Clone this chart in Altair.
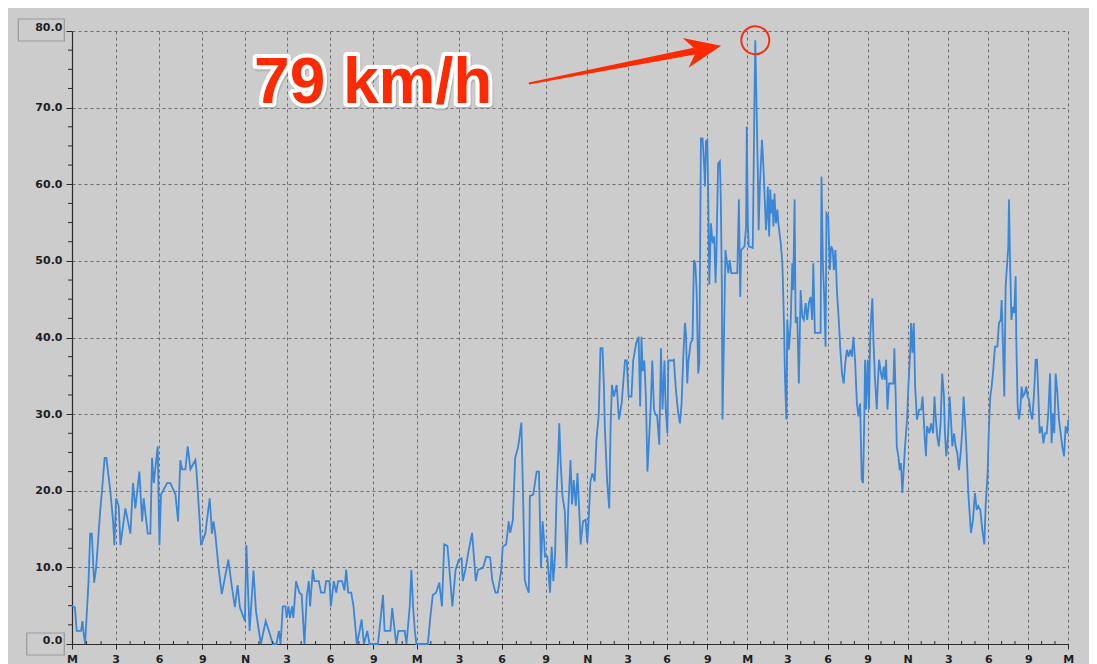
import altair as alt
import pandas as pd

# ---- data (hours since midnight, wind speed km/h) ----
hours = [
    0.0, 0.2, 0.32, 0.62, 0.72, 0.78, 0.9, 1.13, 1.25, 1.36, 1.52, 1.66, 1.94, 2.06, 2.24, 2.36,
    2.63, 2.82, 2.91, 3.03, 3.21, 3.33, 3.67, 4.02, 4.2, 4.36, 4.64, 4.83, 4.94, 5.22, 5.4, 5.52,
    5.64, 5.91, 6.03, 6.14, 6.56, 6.79, 7.14, 7.32, 7.48, 7.6, 7.83, 7.99, 8.18, 8.52, 8.59, 8.82,
    8.91, 9.21, 9.52, 9.68, 9.79, 9.91, 10.14, 10.37, 10.83, 11.06, 11.29, 11.48, 11.64, 11.99,
    12.1, 12.33, 12.61, 12.79, 13.14, 13.49, 13.72, 14.0,
    14.26, 14.44, 14.56, 14.72, 14.91, 15.0, 15.12, 15.23, 15.37, 15.46, 15.65, 15.88, 16.04,
    16.23, 16.39, 16.53, 16.62, 16.81, 16.92, 17.22, 17.38, 17.62, 17.73, 17.96, 18.06, 18.26,
    18.43, 18.56, 18.84, 19.0, 19.12, 19.26, 19.47, 19.63, 19.86, 20.05, 20.19, 20.35, 20.58,
    20.74, 21.32, 21.5, 21.67, 21.78, 22.18, 22.31, 22.48, 22.59, 22.73, 23.17, 23.29, 23.52,
    23.63, 23.75, 23.87, 23.98, 24.79, 24.95, 25.14, 25.37, 25.6, 25.79, 25.95, 26.18, 26.3,
    26.53, 26.76, 26.99, 27.18, 27.27, 27.45, 27.69, 27.92,
    28.18, 28.34, 28.68, 28.91, 29.19, 29.33, 29.56, 29.72, 29.95, 30.07, 30.3, 30.48, 30.58,
    30.76, 30.92, 31.11, 31.22, 31.34, 31.45, 31.57, 31.69, 31.85, 31.92, 32.15, 32.38, 32.54,
    32.61, 32.68, 32.79, 32.89, 32.95, 33.12, 33.31, 33.43, 33.55, 33.67, 33.79, 33.9, 33.98,
    34.07, 34.21, 34.38, 34.5, 34.62, 34.79, 34.9, 35.02, 35.17, 35.29, 35.45, 35.52, 35.69,
    35.88, 36.0, 36.1, 36.23, 36.38, 36.55, 36.68, 36.85, 36.98, 37.13, 37.23, 37.3, 37.48,
    37.63, 37.73, 37.83, 37.98, 38.18, 38.35, 38.55, 38.8, 38.93, 39.07, 39.29, 39.42, 39.66,
    39.84, 39.96, 40.06, 40.15, 40.28, 40.4, 40.52, 40.65, 40.77, 40.89, 41.02, 41.14, 41.26,
    41.43, 41.56, 41.68, 41.83, 41.92, 42.05, 42.12, 42.44,
    42.53, 42.68, 42.85, 42.98, 43.1, 43.22, 43.35, 43.42, 43.52, 43.59, 43.77, 43.91, 44.01,
    44.11, 44.21, 44.33, 44.41, 44.53, 44.65, 44.78, 44.83, 44.9, 45.0, 45.07, 45.15, 45.27,
    45.4, 45.52, 45.62, 45.69, 45.81, 45.94, 46.01, 46.09, 46.14, 46.26, 46.36, 46.48, 46.58,
    46.68, 46.8, 47.25, 47.37, 47.47, 47.54, 47.79, 47.91, 47.96, 48.04, 48.11, 48.41, 48.53,
    48.6, 48.7, 48.78, 48.85, 48.95, 49.1, 49.2, 49.27, 49.4, 49.47, 49.54, 49.64, 49.72,
    49.81, 49.89, 49.96, 50.04, 50.14, 50.26, 50.33, 50.51, 50.63, 50.75, 50.83, 50.93, 51.0,
    51.12, 51.25, 51.37, 51.44, 51.54, 51.62, 51.74, 51.86, 51.99, 52.11, 52.23, 52.36, 52.48,
    52.6, 52.73, 52.85, 52.93, 53.05, 53.47, 53.54, 53.64, 53.74, 53.84, 53.91, 54.04, 54.16,
    54.26, 54.38, 54.46, 54.58, 54.7, 54.83, 54.95, 55.07, 55.2, 55.32, 55.44, 55.57, 55.69,
    55.81, 55.93, 56.06, 56.19, 56.31, 56.43, 56.55, 56.65, 56.75,
    56.8, 56.88, 57.0, 57.1, 57.18, 57.25, 57.35, 57.43, 57.55, 57.68, 57.75, 57.85, 58.0,
    58.1, 58.2, 58.3, 58.38, 58.48, 58.6, 58.93, 59.0, 59.1, 59.18, 59.3, 59.4, 59.5, 59.6,
    59.7, 59.8, 59.95, 60.05, 60.18, 60.25, 60.35, 60.45, 60.55, 60.68, 60.85, 61.0, 61.1,
    61.25, 61.35, 61.43, 61.6, 61.73, 61.88, 61.98, 62.05, 62.18, 62.3, 62.43, 62.55, 62.68,
    62.75, 62.85, 62.98, 63.1, 63.2, 63.3, 63.43, 63.55, 63.68, 63.8, 63.93, 64.05, 64.15,
    64.25, 64.35, 64.5, 64.6, 64.7, 64.85, 65.0, 65.13, 65.25, 65.4, 65.55, 65.7, 65.8, 65.95,
    66.05, 66.15, 66.25, 66.35, 66.5, 66.68, 66.8, 66.93, 67.0, 67.1, 67.2, 67.3, 67.43, 67.5,
    67.55, 67.63, 67.73, 67.85, 67.95, 68.05, 68.1, 68.2, 68.3, 68.4, 68.5, 68.6, 68.73, 68.85,
    68.95, 69.05, 69.18, 69.3, 69.43, 69.55, 69.65, 69.75, 69.85, 70.0, 70.13, 70.25, 70.38,
    70.5, 70.63, 70.75, 70.85, 70.95, 71.05, 71.18, 71.3, 71.43, 71.55, 71.68, 71.8, 71.93, 72.0,
]
speeds = [
    5.0, 4.8, 1.7, 1.7, 3.0, 1.7, 0.0, 8.0, 14.4, 14.4, 8.0, 10.0, 17.5, 20.0, 24.3, 24.3,
    20.0, 16.0, 12.9, 19.0, 18.0, 12.9, 17.7, 14.4, 21.0, 17.7, 22.5, 16.0, 19.0, 14.4, 14.4, 24.3,
    21.0, 25.8, 12.9, 19.5, 21.0, 21.0, 19.5, 16.0, 24.0, 22.8, 22.8, 25.8, 22.8, 24.0, 22.8, 16.0,
    12.9, 14.4, 19.0, 14.4, 16.0, 14.4, 10.0, 6.5, 11.0, 7.7, 4.8, 7.7, 4.8, 3.0,
    12.9, 1.7, 9.6, 4.3, 0.0, 3.0, 1.7, 0.0,
    0.0, 1.7, 0.0, 4.9, 4.9, 3.4, 4.9, 3.4, 4.9, 3.4, 8.2, 6.7, 6.4,
    0.0, 6.2, 8.2, 4.9, 9.7, 8.2, 8.2, 6.7, 6.7, 8.2, 8.2, 4.9, 8.2,
    6.7, 8.2, 8.2, 7.0, 9.7, 6.7, 6.7, 4.9, 0.0, 1.7, 3.2, 0.0, 1.7,
    0.0, 0.0, 3.2, 6.4, 1.7, 1.7, 4.7, 1.7, 0.0, 1.7, 1.7, 0.0, 4.9,
    9.7, 4.9, 1.7, 0.0, 0.0, 3.2, 6.4, 6.7, 8.0, 4.9, 13.0, 12.8, 10.2,
    4.9, 9.7, 11.0, 11.2, 8.2, 9.7, 12.3, 14.5,
    8.2, 9.7, 9.9, 11.4, 11.3, 8.4, 6.7, 6.7, 9.3, 12.7, 13.0, 16.0, 14.5,
    16.2, 24.3, 25.6, 27.1, 28.9, 20.1, 8.4, 7.5, 6.7, 19.3, 19.5, 22.5, 22.5,
    16.2, 9.9, 16.0, 13.6, 11.4, 11.4, 6.7, 12.7, 8.2, 11.4, 19.7, 24.5, 28.8,
    24.0, 19.3, 17.3, 9.9, 17.3, 24.0, 18.2, 21.4, 18.0, 22.3, 16.2, 13.0, 16.0,
    16.2, 13.2, 16.2, 21.2, 22.3, 21.2, 26.7, 29.9, 38.6, 38.6, 33.8, 28.4, 21.0,
    17.7, 28.4, 33.8, 32.3, 33.8, 29.3, 31.4, 37.0, 37.0, 32.3, 32.3, 37.0, 39.3,
    40.1, 31.0, 40.1, 35.6, 37.0, 32.3, 22.5, 26.9, 31.0, 37.0, 30.6, 29.9, 29.9,
    26.0, 38.6, 30.6, 37.0, 30.8, 27.5, 37.0, 37.0,
    37.1, 33.2, 30.1, 28.8, 31.4, 37.3, 41.9, 40.6, 34.0, 36.7, 39.3, 39.7, 50.1,
    49.7, 46.2, 35.3, 36.7, 66.0, 66.0, 61.9, 59.7, 65.6, 65.8, 58.4, 46.9, 54.9,
    52.3, 53.2, 47.1, 51.4, 62.7, 63.0, 58.4, 47.1, 29.3, 41.0, 51.4, 49.7, 48.4,
    50.1, 48.4, 48.4, 58.0, 45.3, 51.4, 51.9, 54.5, 67.5, 54.9, 51.9, 51.7, 70.1,
    78.8, 69.7, 62.7, 54.0, 60.1, 65.8, 62.7, 59.7, 54.0, 55.8, 59.7, 53.2, 59.3,
    56.2, 58.0, 54.5, 58.8, 54.9, 56.7, 54.9, 52.3, 49.7, 41.9, 34.5, 29.3, 42.3,
    38.4, 41.9, 49.7, 46.2, 58.0, 41.9, 42.7, 34.0, 46.2, 42.7, 42.3, 44.5, 42.3,
    44.5, 45.3, 42.3, 49.7, 40.6, 40.6, 61.0, 49.7, 45.3, 38.8, 56.2, 55.8, 48.8,
    51.9, 51.4, 48.8, 51.4, 45.8, 42.3, 38.4, 35.3, 34.0, 36.7, 38.4, 37.5, 38.4,
    37.5, 40.1, 36.7, 31.4, 29.7, 31.4, 21.5, 21.0, 30.0,
    37.1, 30.6, 37.1, 30.6, 39.7, 42.3, 45.1, 39.7, 34.5, 30.6, 33.6, 37.1, 35.3,
    34.5, 36.2, 34.5, 37.1, 30.6, 34.0, 34.0, 38.6, 32.3, 25.8, 24.5, 22.7, 23.6, 19.7,
    22.7, 25.8, 29.3, 33.6, 38.0, 41.9, 38.0, 41.9, 33.6, 29.3, 30.6, 30.6, 32.3,
    27.1, 24.5, 28.4, 27.5, 28.8, 27.5, 32.3, 30.1, 27.1, 25.8, 28.8, 35.3, 32.3,
    27.5, 24.5, 27.1, 32.3, 29.3, 25.8, 27.5, 25.8, 24.9, 22.7, 24.9, 28.0, 32.3,
    29.3, 25.8, 19.7, 17.1, 14.5, 16.2, 19.7, 17.5, 18.0, 17.5, 14.9, 13.0, 18.0, 22.3,
    28.4, 32.3, 33.6, 35.3, 38.8, 38.8, 41.9, 42.3, 44.9, 38.8, 32.3, 46.7, 50.1, 51.9,
    58.0, 50.1, 42.3, 44.0, 43.2, 48.0, 39.7, 31.0, 29.3, 30.6, 33.6, 32.3, 32.7, 33.6,
    32.3, 31.9, 30.1, 29.3, 32.7, 37.1, 37.1, 32.7, 27.5, 28.4, 26.2, 27.5, 27.5,
    30.1, 35.3, 26.2, 30.1, 27.5, 35.3, 32.7, 29.3, 27.5, 25.8, 24.5, 28.4, 27.5, 29.3,
]

tick_hours = list(range(0, 73, 3))
tick_labels = ["M", "3", "6", "9", "N", "3", "6", "9",
               "M", "3", "6", "9", "N", "3", "6", "9",
               "M", "3", "6", "9", "N", "3", "6", "9", "M"]
y_ticks = [0, 10, 20, 30, 40, 50, 60, 70, 80]
boxed_labels = ["0.0", "80.0"]
peak_text = "79 km/h"

# ---- layout ----
W, H = 996, 613
tick_px = [0, 43.7, 87, 130.3, 173, 214.7, 258, 301.3, 344.7, 387, 429.7, 473.7,
           515.3, 555.7, 594.7, 635.3, 675.3, 715.3, 755.7, 795.7, 835.7, 876.3,
           916.3, 956.3, 996.3]

df = pd.DataFrame({"hour": hours, "speed": speeds})
peak_i = speeds.index(max(speeds))
peak_hour, peak_speed = hours[peak_i], speeds[peak_i]

x_scale = alt.Scale(domain=tick_hours, range=tick_px, nice=False, zero=False)
y_scale = alt.Scale(domain=[0, 80], nice=False, zero=False)

FONT = "DejaVu Sans"
GRID = "#6e6e6e"
DARK = "#2b2b2b"
RED = "#ff2a00"

label_expr = "[" + ",".join("'%s'" % t for t in tick_labels) + "][round(datum.value/3)]"

x_axis = alt.Axis(values=tick_hours, labelExpr=label_expr, title=None, grid=True,
                  gridDash=[3, 3], gridColor=GRID, gridWidth=1,
                  domainColor=DARK, domainWidth=1.2, tickColor=DARK, tickSize=5,
                  labelFont=FONT, labelFontWeight="bold", labelFontSize=11,
                  labelColor="#1e1e1e", labelPadding=4, labelAngle=0, labelFlush=False,
                  labelOverlap=False)
y_axis = alt.Axis(values=y_ticks,
                  labelExpr="(datum.value == 0 || datum.value == 80) ? '' : format(datum.value, '.1f')",
                  title=None, grid=True, gridDash=[3, 3], gridColor=GRID, gridWidth=1,
                  domainColor=DARK, domainWidth=1.2, tickColor=DARK, tickSize=6,
                  labelFont=FONT, labelFontWeight="bold", labelFontSize=11,
                  labelColor="#1e1e1e", labelPadding=4, labelOverlap=False)

line = alt.Chart(df).mark_line(color="#3a86d8", strokeWidth=1.8).encode(
    x=alt.X("hour:Q", scale=x_scale, axis=x_axis),
    y=alt.Y("speed:Q", scale=y_scale, axis=y_axis),
)

one = alt.Data(values=[{}])

# minor ticks
minor_x = pd.DataFrame({"hour": [h for h in range(73) if h % 3]})
minor_y = pd.DataFrame({"speed": [v / 2 for v in range(0, 161, 5) if v % 20]})
x_minor = alt.Chart(minor_x).mark_rule(color=DARK, strokeWidth=1).encode(
    x=alt.X("hour:Q", title=None), y=alt.value(H - 3), y2=alt.value(H))
y_minor = alt.Chart(minor_y).mark_rule(color=DARK, strokeWidth=1).encode(
    y=alt.Y("speed:Q", title=None), x=alt.value(-4), x2=alt.value(0))

# boxed end labels
box80 = alt.Chart(one).mark_rect(fill="#cccccc", stroke="#9a9a9a", strokeWidth=1.2,
                                 yOffset=-12, y2Offset=10).encode(
    x=alt.value(-53.7), x2=alt.value(-7.7),
    y=alt.datum(80), y2=alt.datum(80))
box0 = alt.Chart(one).mark_rect(fill="#cccccc", stroke="#9a9a9a", strokeWidth=1.2,
                                yOffset=-11, y2Offset=11).encode(
    x=alt.value(-45.3), x2=alt.value(-7.7),
    y=alt.datum(0), y2=alt.datum(0))
lab80 = alt.Chart(one).mark_text(text=boxed_labels[1], align="right", baseline="middle",
                                 dy=-3, font=FONT, fontWeight="bold", fontSize=11,
                                 color="#1e1e1e").encode(
    x=alt.value(-9.7), y=alt.datum(80))
lab0 = alt.Chart(one).mark_text(text=boxed_labels[0], align="right", baseline="middle",
                                dy=-3.5, font=FONT, fontWeight="bold", fontSize=11,
                                color="#1e1e1e").encode(
    x=alt.value(-9.7), y=alt.datum(0))

# annotation
txt_kw = dict(text=peak_text, align="left", baseline="alphabetic",
              font="Liberation Sans", fontWeight="bold", fontSize=64)
txt_pos = dict(x=alt.datum(12.65), y=alt.datum(70.6))
shadow = alt.Chart(one).mark_text(fill="#8a8a8a", stroke="#8a8a8a", strokeWidth=8,
                                  strokeJoin="round", opacity=0.35, dx=1, dy=2,
                                  **txt_kw).encode(**txt_pos)
outline = alt.Chart(one).mark_text(fill="white", stroke="white", strokeWidth=8,
                                   strokeJoin="round", **txt_kw).encode(**txt_pos)
red_txt = alt.Chart(one).mark_text(fill=RED, **txt_kw).encode(**txt_pos)

arrow_path = "M-1,-0.01 L0.72,-0.035 L0.63,-0.155 L1,0 L0.63,0.155 L0.72,0.035 L-1,0.01 Z"
arrow = alt.Chart(one).mark_point(shape=arrow_path, size=38416, filled=True, fill=RED,
                                  color=RED, strokeWidth=0, opacity=1, angle=348.9).encode(
    x=alt.datum(38.8), y=alt.datum(75.6))
circle = alt.Chart(one).mark_point(shape="circle", size=784, filled=False, color="#f03014",
                                   strokeWidth=2, opacity=1).encode(
    x=alt.datum(peak_hour), y=alt.datum(peak_speed))

chart = alt.layer(
    line, x_minor, y_minor, box80, box0, lab80, lab0,
    shadow, outline, red_txt, arrow, circle,
).properties(
    width=W, height=H,
    autosize=alt.AutoSizeParams(type="none"),
    padding={"left": 64, "top": 23, "right": 21, "bottom": 20},
).configure(background="#cccccc").configure_view(stroke=None, fill=None)

chart.save("out.html", embed_options={"renderer": "svg", "actions": False})
